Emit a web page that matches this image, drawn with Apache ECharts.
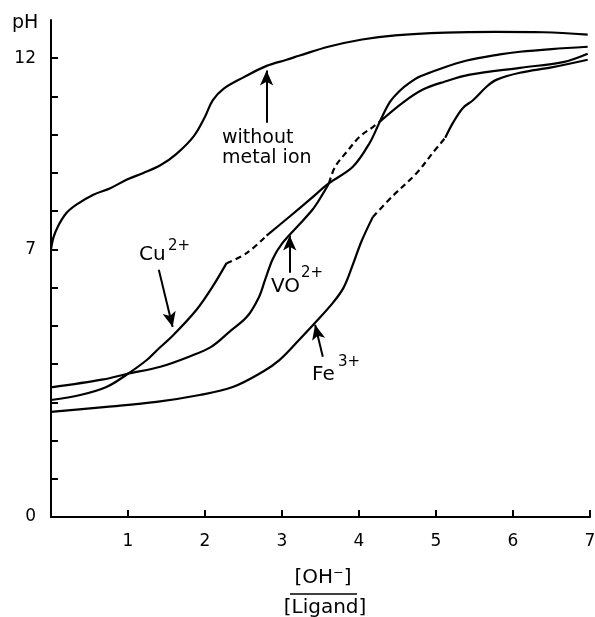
<!DOCTYPE html>
<html>
<head>
<meta charset="utf-8">
<script src="https://cdn.jsdelivr.net/npm/echarts@6/dist/echarts.min.js"></script>
<style>
  html, body { margin: 0; padding: 0; background: #fff; }
  #chart { width: 595px; height: 617px; }
</style>
</head>
<body>
<div id="chart"></div>
<script>
// [OH-]/[Ligand] vs pH
const xTicks = [1, 2, 3, 4, 5, 6, 7];
const yTicks = [0, 1, 2, 3, 4, 5, 6, 7, 8, 9, 10, 11, 12];
const yLabels = [0, 7, 12];

const noMetal = [
  [0, 7.0], [0.03, 7.3], [0.09, 7.6], [0.2, 7.95], [0.33, 8.17], [0.55, 8.43], [0.77, 8.6],
  [0.98, 8.82], [1.2, 9.0], [1.42, 9.2], [1.63, 9.5], [1.85, 9.95], [2.0, 10.47], [2.1, 10.9],
  [2.24, 11.2], [2.5, 11.5], [2.8, 11.8], [3.06, 11.96], [3.23, 12.07], [3.6, 12.3],
  [4.04, 12.49], [4.47, 12.6], [5.12, 12.67], [5.77, 12.69], [6.4, 12.68], [6.97, 12.62],
];

const cuSolidA = [
  [0, 3.06], [0.38, 3.19], [0.72, 3.4], [0.98, 3.72], [1.24, 4.1], [1.38, 4.37], [1.58, 4.74],
  [1.89, 5.42], [2.1, 6.03], [2.28, 6.64],
];
const cuDashed = [[2.28, 6.64], [2.54, 6.9], [2.8, 7.36]];
const cuSolidB = [
  [2.8, 7.36], [3.1, 7.86], [3.36, 8.3], [3.61, 8.73], [3.92, 9.16], [4.14, 9.79], [4.27, 10.34],
  [4.4, 10.85], [4.53, 11.15], [4.66, 11.36], [4.79, 11.52], [5.05, 11.72], [5.4, 11.94],
  [5.83, 12.1], [6.09, 12.17], [6.5, 12.24], [6.97, 12.3],
];

const voSolidA = [
  [0, 3.39], [0.68, 3.6], [0.98, 3.74], [1.42, 3.93], [1.8, 4.2], [2.08, 4.45], [2.32, 4.85],
  [2.55, 5.25], [2.7, 5.75], [2.78, 6.2], [2.88, 6.75], [3.0, 7.15], [3.2, 7.6], [3.4, 8.05],
  [3.53, 8.45], [3.61, 8.73],
];
const voDashed = [[3.61, 8.73], [3.69, 9.16], [3.84, 9.55], [4.01, 9.95], [4.18, 10.2], [4.27, 10.34]];
const voSolidB = [
  [4.27, 10.34], [4.57, 10.84], [4.83, 11.18], [5.1, 11.38], [5.44, 11.57], [6.09, 11.75],
  [6.65, 11.9], [6.97, 12.12],
];

const feSolidA = [
  [0, 2.75], [0.72, 2.88], [1.37, 3.01], [1.93, 3.19], [2.36, 3.4], [2.75, 3.8], [2.97, 4.11],
  [3.23, 4.65], [3.43, 5.08], [3.66, 5.6], [3.8, 6.0], [3.92, 6.6], [4.03, 7.2], [4.18, 7.85],
];
const feDashed = [[4.18, 7.85], [4.44, 8.4], [4.75, 9.0], [4.96, 9.53], [5.12, 9.92]];
const feSolidB = [
  [5.12, 9.92], [5.22, 10.31], [5.35, 10.7], [5.48, 10.9], [5.66, 11.26], [5.79, 11.44],
  [6.09, 11.62], [6.5, 11.76], [6.97, 11.96],
];

// arrows: [from, to] in data coords
const arrows = [
  [[2.8, 10.31], [2.8, 11.68]],
  [[1.4, 6.47], [1.58, 4.97]],
  [[3.1, 6.39], [3.1, 7.36]],
  [[3.53, 4.19], [3.43, 5.03]],
];

const ink = '#000';
const font = '"DejaVu Sans", sans-serif';

function line(data, dashed) {
  return {
    type: 'line',
    data,
    smooth: 0.35,
    showSymbol: false,
    silent: true,
    lineStyle: { color: ink, width: 2.2, type: dashed ? [6, 4] : 'solid' },
  };
}

function label(text, left, top, size) {
  return { type: 'text', left, top, style: { text, fill: ink, font: `${size}px ${font}` } };
}

const chart = echarts.init(document.getElementById('chart'));
chart.setOption({
  animation: false,
  grid: { left: 51, right: 5, top: 20, bottom: 100, outerBoundsMode: 'none' },
  xAxis: {
    type: 'value', min: 0, max: 7, interval: 1,
    axisLine: { lineStyle: { color: ink, width: 2 } },
    axisTick: { inside: true, length: 7, customValues: xTicks, lineStyle: { color: ink, width: 2 } },
    axisLabel: { customValues: xTicks, margin: 16, fontSize: 17, color: ink, fontFamily: font },
    splitLine: { show: false },
  },
  yAxis: {
    type: 'value', min: 0, max: 13, interval: 1,
    axisLine: { show: true, lineStyle: { color: ink, width: 2 } },
    axisTick: { show: true, inside: true, length: 7, customValues: yTicks, lineStyle: { color: ink, width: 2 } },
    axisLabel: { customValues: yLabels, margin: 15, fontSize: 17, color: ink, fontFamily: font },
    splitLine: { show: false },
  },
  series: [
    {
      ...line(noMetal, false),
      markLine: {
        silent: true,
        symbol: ['none', 'arrow'],
        symbolSize: [10, 15],
        label: { show: false },
        lineStyle: { color: ink, width: 2, type: 'solid' },
        data: arrows.map(([a, b]) => [{ coord: a }, { coord: b }]),
      },
    },
    line(cuSolidA, false), line(cuDashed, true), line(cuSolidB, false),
    line(voSolidA, false), line(voDashed, true), line(voSolidB, false),
    line(feSolidA, false), line(feDashed, true), line(feSolidB, false),
  ],
  graphic: [
    label('pH', 12, 14, 19),
    label('without', 222, 129, 19),
    label('metal ion', 222, 149, 19),
    label('Cu', 139, 245, 20),
    label('2+', 168, 239, 15),
    label('VO', 271, 277, 20),
    label('2+', 301, 266, 15),
    label('Fe', 312, 365, 20),
    label('3+', 338, 355, 15),
    { type: 'text', x: 323, y: 568, style: { text: '[OH⁻]', fill: ink, font: `20px ${font}`, align: 'center' } },
    { type: 'line', shape: { x1: 290, y1: 594, x2: 357, y2: 594 }, style: { stroke: ink, lineWidth: 1.5 } },
    { type: 'text', x: 325, y: 598, style: { text: '[Ligand]', fill: ink, font: `20px ${font}`, align: 'center' } },
  ],
});
</script>
</body>
</html>
